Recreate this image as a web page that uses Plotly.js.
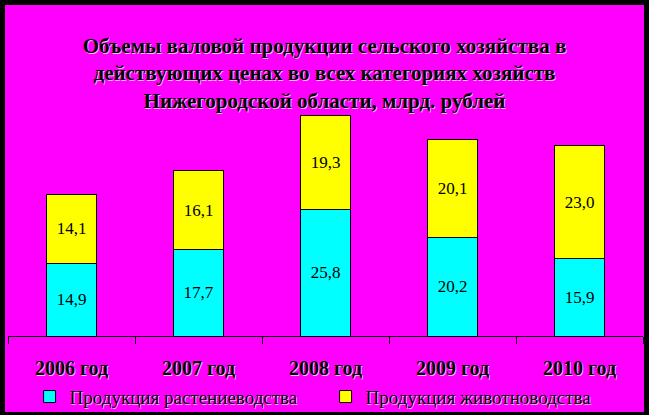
<!DOCTYPE html>
<html>
<head>
<meta charset="utf-8">
<script src="https://cdn.plot.ly/plotly-3.0.1.min.js"></script>
<style>
  html, body { margin: 0; padding: 0; background: #000000; width: 649px; height: 415px; overflow: hidden; }
  #chart { position: absolute; left: 5px; top: 5px; width: 639px; height: 407px; }
</style>
</head>
<body>
<div id="chart"></div>
<script>
const years = ['2006 год', '2007 год', '2008 год', '2009 год', '2010 год'];
const plantValues = [14.9, 17.7, 25.8, 20.2, 15.9];
const animalValues = [14.1, 16.1, 19.3, 20.1, 23.0];
const seriesNames = ['Продукция растениеводства', 'Продукция животноводства'];
const titleText = 'Объемы валовой продукции сельского хозяйства в<br>действующих ценах во всех категориях хозяйств<br>Нижегородской области, млрд. рублей';

const serif = 'Liberation Serif';
const shadow = '1px 1px 0px rgba(255,255,255,0.7)';

const common = {
  type: 'bar',
  x: years,
  width: 0.4,
  texttemplate: '%{y:.1f}',
  textposition: 'inside',
  insidetextanchor: 'middle',
  textangle: 0,
  constraintext: 'none',
  textfont: { family: serif, size: 17, color: '#000000' },
  hoverinfo: 'skip'
};

const data = [
  Object.assign({}, common, {
    name: seriesNames[0],
    y: plantValues,
    marker: { color: '#00FFFF', line: { color: '#000000', width: 1 } }
  }),
  Object.assign({}, common, {
    name: seriesNames[1],
    y: animalValues,
    marker: { color: '#FFFF00', line: { color: '#000000', width: 1 } }
  })
];

const layout = {
  width: 639,
  height: 407,
  barmode: 'stack',
  separators: ', ',
  font: { family: serif, size: 19, color: '#000000' },
  paper_bgcolor: '#FF00FF',
  plot_bgcolor: '#FF00FF',
  margin: { l: 3, r: 1, t: 30, b: 76, pad: 0 },
  showlegend: true,
  title: {
    text: titleText,
    x: 0.5,
    xanchor: 'center',
    xref: 'container',
    y: 0.882,
    yref: 'container',
    yanchor: 'top',
    font: { family: serif, size: 21, weight: 'bold', color: '#000000', shadow: shadow }
  },
  xaxis: {
    type: 'category',
    range: [-0.5, 4.5],
    tickson: 'boundaries',
    ticks: 'outside',
    ticklen: 7,
    tickwidth: 1,
    tickcolor: '#000000',
    showline: true,
    linecolor: '#000000',
    linewidth: 1,
    showgrid: false,
    zeroline: false,
    automargin: false,
    ticklabelstandoff: 14,
    tickfont: { family: serif, size: 20, weight: 'bold', color: '#000000', shadow: shadow },
    fixedrange: true
  },
  yaxis: {
    range: [0, 61.6],
    visible: false,
    showgrid: false,
    zeroline: false,
    fixedrange: true
  },
  legend: {
    orientation: 'h',
    x: 0.034,
    xanchor: 'left',
    xref: 'paper',
    y: 0.0376,
    yref: 'container',
    yanchor: 'middle',
    bgcolor: 'rgba(0,0,0,0)',
    borderwidth: 0,
    traceorder: 'normal',
    entrywidth: 251,
    entrywidthmode: 'pixels',
    font: { family: serif, size: 19, weight: 'normal', style: 'normal', color: '#000000', shadow: shadow }
  }
};

Plotly.newPlot('chart', data, layout, { staticPlot: true, displayModeBar: false });
</script>
</body>
</html>
